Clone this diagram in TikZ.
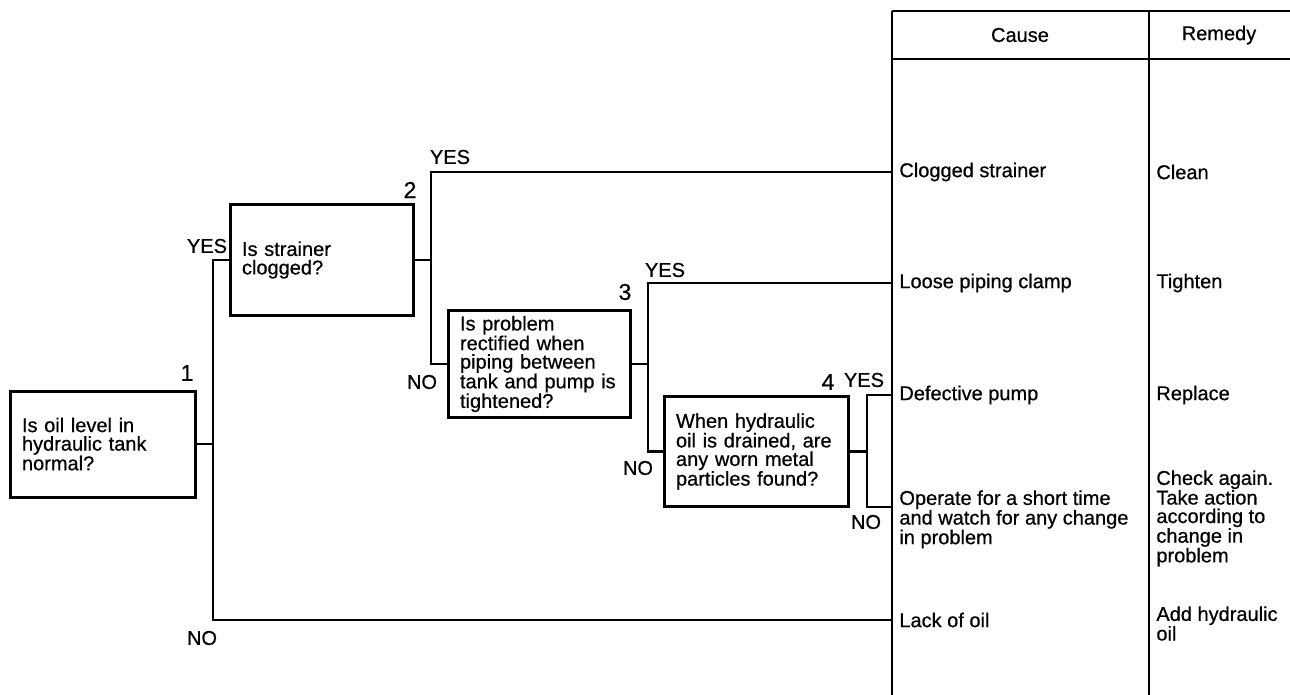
\documentclass[tikz,border=0pt]{standalone}
\usepackage{fontspec}
\setmainfont{Liberation Sans}[FakeBold=0.6]
\begin{document}
\begin{tikzpicture}[x=1pt,y=-1pt, line width=2.8pt,
  every node/.style={font=\fontsize{20}{18.5}\selectfont, inner sep=0pt},
  qbox/.style={draw, line width=3pt, rectangle, align=left, inner xsep=12pt, inner ysep=0pt},
  num/.style={font=\fontsize{23}{23}\selectfont},
  cell/.style={anchor=west, inner xsep=6pt},
  mcell/.style={align=left, anchor=north west}]
\useasboundingbox (0,0) rectangle (1290,695);

% table frame
\coordinate (tl) at (892,11);
\coordinate (tr) at (1290,11);
\coordinate (hl) at (892,59);
\coordinate (hr) at (1290,59);
\coordinate (bl) at (892,695);
\coordinate (mt) at (1149,11);
\coordinate (mb) at (1149,695);
\draw (tl) -- (tr);
\draw (hl) -- (hr);
\draw (tl) -- (bl);
\draw (mt) -- (mb);
\node (hcause) at (1020,35) {Cause};
\node (hremedy) at (1219,35) {Remedy};

% question boxes
\node[qbox, minimum width=185pt, minimum height=106pt, text width=161pt] (b1) at (102.5,444) {Is oil level in\\hydraulic tank\\normal?};
\node[qbox, minimum width=183pt, minimum height=110pt, text width=159pt] (b2) at (321.5,260) {Is strainer\\clogged?};
\node[qbox, minimum width=182pt, minimum height=107pt, text width=158pt] (b3) at (539,364) {Is problem\\rectified when\\piping between\\tank and pump is\\tightened?};
\node[qbox, minimum width=184pt, minimum height=110pt, text width=160pt] (b4) at (756,451.5) {When hydraulic\\oil is drained, are\\any worn metal\\particles found?};

\node[num] (n1) at (187,373) {1};
\node[num] (n2) at (410,190) {2};
\node[num] (n3) at (625,292) {3};
\node[num] (n4) at (828,382) {4};

% causes
\node[cell] (cs1) at (892,172) {Clogged strainer};
\node[cell] (cs2) at (892,283) {Loose piping clamp};
\node[cell] (cs3) at (892,395) {Defective pump};
\coordinate (c4) at (892,507);
\node[mcell] (cs4) at (898,489) {Operate for a short time\\and watch for any change\\in problem};
\node[cell] (cs5) at (892,620) {Lack of oil};

% remedies
\node[cell] (rm1) at (1149,172) {Clean};
\node[cell] (rm2) at (1149,283) {Tighten};
\node[cell] (rm3) at (1149,395) {Replace};
\node[mcell] (rm4) at (1155,469) {Check again.\\Take action\\according to\\change in\\problem};
\node[mcell] (rm5) at (1155,605) {Add hydraulic\\oil};

% trunks
\coordinate (t1top) at (213,260);
\coordinate (t1bot) at (213,620);
\coordinate (t2top) at (431,172);
\coordinate (t2bot) at (431,364);
\coordinate (t3top) at (648,283);
\coordinate (t3bot) at (648,451.5);
\coordinate (t4top) at (867,395);
\coordinate (t4bot) at (867,507);

\draw (b1.east) -- (b1.east -| t1top);
\draw (b2.west) -- (t1top) -- (t1bot) -- (cs5.west);
\draw (b2.east) -- (b2.east -| t2top);
\draw (cs1.west) -- (t2top) -- (t2bot) -- (b3.west);
\draw (b3.east) -- (b3.east -| t3top);
\draw (cs2.west) -- (t3top) -- (t3bot) -- (b4.west);
\draw (b4.east) -- (b4.east -| t4top);
\draw (cs3.west) -- (t4top) -- (t4bot) -- (c4);

% yes/no labels
\node (y1) at (207,246) {YES};
\node (no1) at (202,638) {NO};
\node (y2) at (450,157) {YES};
\node (no2) at (422,382) {NO};
\node (y3) at (665,270) {YES};
\node (no3) at (638,468) {NO};
\node (y4) at (864,380) {YES};
\node (no4) at (866,522) {NO};
\end{tikzpicture}
\end{document}
